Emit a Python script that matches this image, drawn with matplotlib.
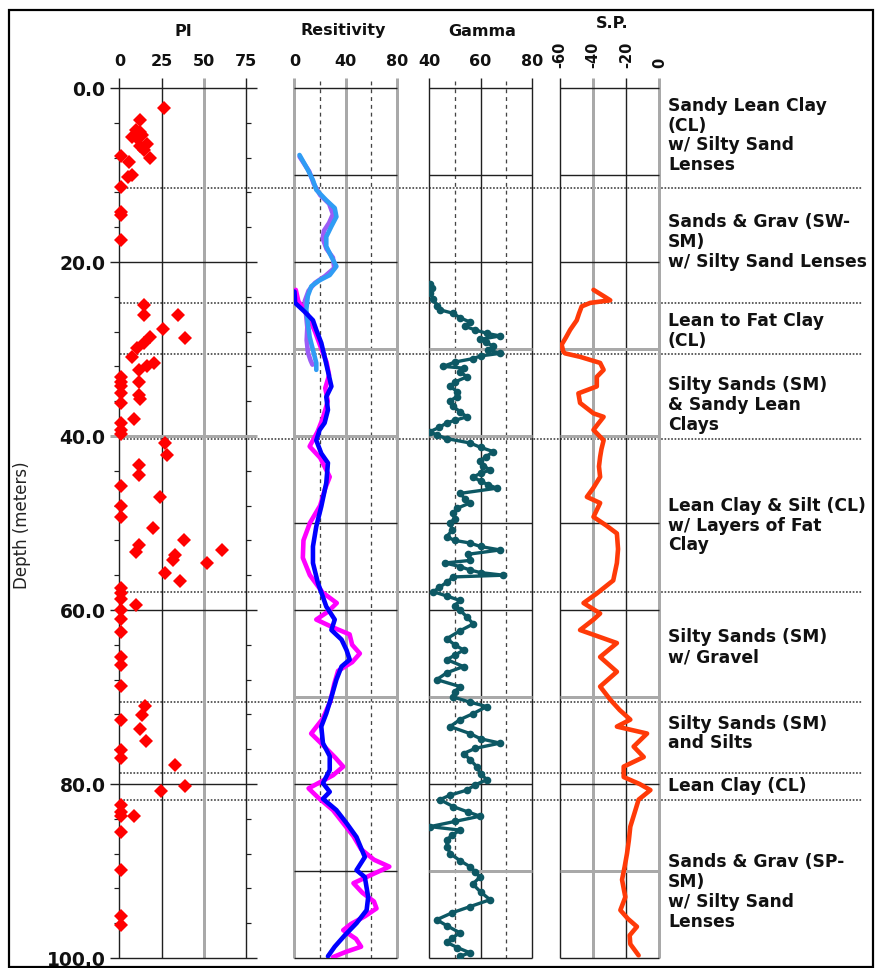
import matplotlib
matplotlib.use("Agg")
import matplotlib.pyplot as plt
import numpy as np
from matplotlib.patches import Rectangle

# ---------------- data ----------------
depth_ticks = [0, 20, 40, 60, 80, 100]

# Plasticity index samples
pi_depth = [2.3, 3.7, 4.8, 5.0, 5.4, 5.6, 5.8, 6.4, 6.7, 7.1,
            7.8, 8.1, 8.5, 10.0, 10.2, 11.4, 14.2, 14.6, 17.5, 24.9,
            26.1, 26.1, 27.7, 28.6, 28.7, 29.3, 29.9, 30.9, 31.6, 32.0,
            32.4, 33.2, 33.8, 33.8, 34.3, 35.1, 35.3, 35.7, 36.2, 38.0,
            38.5, 39.3, 39.8, 40.8, 42.2, 43.3, 44.5, 45.7, 47.0, 48.1,
            49.3, 50.6, 51.9, 52.5, 53.1, 53.3, 53.7, 54.3, 54.6, 55.7,
            56.7, 57.5, 58.1, 58.7, 59.4, 60.0, 61.0, 62.5, 65.4, 66.3,
            68.7, 71.0, 72.1, 72.6, 73.7, 75.0, 76.1, 77.0, 77.8, 80.2,
            80.8, 82.4, 83.2, 83.7, 83.7, 85.5, 89.9, 95.2, 96.2]
pi_value = [26.6, 12, 9.5, 12.4, 13.4, 7.5, 10.4, 16.4, 12.4, 14.4,
            1, 17.9, 5.5, 7.5, 4.9, 1, 1, 1, 1, 14.4,
            14.4, 34.5, 25.8, 18.3, 39, 14.4, 10.4, 7.5, 20.3, 16.4,
            11.4, 1, 1, 11.4, 1, 1, 11.4, 12.4, 1, 8.5,
            1, 1, 1, 27.2, 28.2, 11.4, 11.4, 1, 24.3, 1,
            1, 19.9, 38, 11.4, 60.7, 9.5, 33, 32, 51.8, 27.2,
            35.7, 1, 1, 1, 10, 1, 1, 1, 1, 1,
            1, 15.4, 13.4, 1, 12.4, 16, 1, 1, 33, 38.6,
            24.6, 1, 1, 1, 8.5, 1, 1, 1, 1]

# Resistivity, upper run (shallow tool) and lower run (deep tool)
res_up_depth = [7.7, 9.4, 10.6, 11.7, 12.9, 13.8, 14.8, 15.9, 17.1, 18.2,
                19.4, 20.5, 21.5, 22.1, 22.8, 23.9, 25.5, 27.0, 28.6, 30.1,
                31.6, 32.4]
res_up_blue = [3.9, 10.4, 14.4, 17, 24.8, 31.4, 32.7, 28.8, 24.8, 24.8,
               28.8, 32.7, 27.5, 19.6, 13.1, 10.4, 9.2, 10.4, 11.8, 14.4,
               17, 17]
res_up_purple_depth = [7.9, 9.6, 11.0, 12.3, 13.3, 14.5, 15.5, 16.4, 17.3, 18.5,
                       19.5, 20.7, 21.6, 22.4, 23.3, 24.5, 26.0, 27.5, 29.0, 30.4,
                       31.3, 31.8]
res_up_purple = [4, 11.5, 15, 20, 27, 30, 27, 23, 22, 25,
                 30, 31, 24, 16, 11, 8, 9, 10, 9.5, 10.5,
                 12.5, 14]

res_lo_depth = [23.4, 24.7, 25.7, 26.7, 27.8, 29.3, 30.9, 32.5, 34.3, 35.5,
                37.0, 38.5, 39.3, 40.5, 42.0, 43.1, 45.4, 48.1, 50.4, 52.7,
                54.6, 56.9, 58.5, 59.6, 61.1, 62.3, 63.4, 64.6, 65.7, 66.5,
                68.0, 70.0, 71.9, 73.4, 75.3, 76.8, 78.4, 79.9, 80.9, 81.7,
                83.0, 84.5, 86.1, 88.4, 89.9, 90.7, 93.0, 94.5, 96.0, 97.4,
                98.7, 99.8]
res_lo_blue = [0, 0.5, 7.8, 14.4, 17, 20.9, 23.5, 26, 28.8, 24.8,
               26.1, 23.5, 19.6, 17, 20.9, 26.1, 24.8, 20.9, 17, 14.4,
               14.4, 18.3, 22.2, 24.8, 31.4, 28.8, 36.7, 40.6, 43.1, 36.7,
               32.7, 28.8, 24.8, 20.9, 22.2, 27.5, 27.5, 22.2, 27.5, 22.2,
               32.7, 40.6, 48.4, 54.9, 48.4, 54.9, 57.5, 56.3, 48.4, 39.2,
               31.4, 26.1]
res_lo_mag_depth = [23.2, 24.5, 26.0, 28.0, 30.0, 31.5, 33.0, 34.5, 36.0, 38.0,
                    39.5, 41.2, 42.5, 44.7, 46.0, 48.0, 50.0, 52.0, 54.0, 56.0,
                    58.0, 59.2, 60.2, 61.1, 62.0, 62.8, 64.0, 65.0, 66.0, 67.0,
                    68.5, 70.5, 72.5, 74.2, 75.5, 77.0, 78.0, 79.0, 80.5, 81.5,
                    83.0, 84.5, 86.0, 87.5, 88.7, 89.5, 90.3, 91.4, 92.5, 93.5,
                    94.3, 95.2, 96.1, 96.8, 97.8, 98.7, 99.3, 99.9]
res_lo_mag = [1, 3, 10, 16, 21, 25, 27, 24, 26, 22,
              18, 11.8, 20, 27.5, 24, 20, 12, 7, 6.5, 12,
              22, 33, 26, 17, 30, 43, 45, 51, 45, 34,
              31, 28, 22, 13, 22, 32, 38, 30, 11, 18,
              30, 38, 46, 52, 62, 74, 62, 46, 53, 62,
              64, 55, 44, 38, 48, 52, 40, 30]

# Natural gamma
gamma_depth = [22.5, 23.0, 23.6, 24.2, 25.0, 25.5, 25.9, 26.4, 26.9, 27.4,
               27.8, 28.2, 28.5, 28.9, 29.2, 29.7, 30.1, 30.5, 30.8, 31.1,
               31.5, 32.0, 32.2, 32.6, 33.2, 33.8, 34.3, 34.9, 35.5, 36.0,
               36.6, 37.2, 37.8, 38.2, 38.5, 39.0, 39.5, 39.9, 40.3, 40.8,
               41.3, 41.8, 42.4, 42.9, 43.4, 43.9, 44.3, 44.7, 45.2, 45.6,
               46.0, 46.6, 47.2, 47.7, 48.3, 48.9, 49.5, 50.0, 50.8, 51.6,
               52.0, 52.3, 52.7, 53.1, 53.6, 54.3, 54.6, 55.0, 55.4, 55.7,
               56.0, 56.2, 56.8, 57.4, 57.9, 58.4, 58.9, 59.5, 60.0, 60.8,
               61.6, 62.4, 63.3, 64.0, 64.6, 65.2, 65.7, 66.5, 67.2, 68.0,
               68.8, 69.4, 70.0, 70.6, 71.1, 71.9, 72.6, 73.4, 74.2, 74.8,
               75.3, 75.9, 76.5, 77.2, 78.0, 78.8, 79.5, 80.1, 80.7, 81.3,
               81.8, 82.6, 83.2, 83.7, 84.3, 84.9, 85.3, 85.9, 86.4, 87.2,
               88.0, 88.8, 89.5, 90.1, 90.7, 91.5, 92.4, 93.3, 94.1, 94.8,
               95.6, 96.3, 97.1, 97.7, 98.2, 98.8, 99.4, 99.8]
gamma_value = [40.5, 41, 40.5, 41.7, 43, 44.3, 49.4, 52, 55.9, 54,
               57.9, 62.4, 67.6, 59.8, 62, 65, 63, 67.6, 60, 57.2,
               50, 45.6, 53.4, 52, 54.7, 50, 48.2, 51, 50.7, 48,
               49.4, 52, 54.7, 50, 46.9, 44, 40.4, 43, 46.9, 55.9,
               60, 65, 62, 59.8, 61, 63.7, 60, 57.2, 60, 63,
               66.3, 52, 54, 55.9, 51, 49.4, 50, 48.2, 49, 46.9,
               50, 55.9, 60, 67.6, 55, 55.9, 46.2, 52, 55.9, 60,
               68.9, 49.4, 47, 44, 41.7, 47, 52, 50, 52, 54.7,
               57.2, 52, 46.9, 50, 53.4, 50, 46.9, 53.4, 47, 43,
               52, 50, 49.4, 56, 62.4, 57.2, 52, 48.2, 55.9, 60,
               67.6, 58, 53.4, 56, 58.5, 60, 62.4, 58, 54.7, 48,
               44.3, 49.4, 55, 59.8, 50, 40.4, 52, 49, 46.9, 47,
               48.2, 52, 55.9, 58, 59.8, 57, 60, 63.7, 55.9, 49,
               43, 47, 52, 49, 46.9, 51, 55.9, 52]

# Spontaneous potential
sp_depth = [23.2, 24.0, 24.4, 24.7, 25.1, 25.9, 26.7, 27.8, 28.7, 29.5,
            30.3, 30.5, 30.9, 31.6, 32.4, 33.2, 34.3, 35.1, 36.2, 37.4,
            37.8, 38.6, 39.3, 40.5, 41.5, 42.4, 43.5, 44.7, 46.0, 47.0,
            47.7, 49.3, 50.3, 51.2, 53.0, 54.6, 56.6, 58.1, 59.2, 60.4,
            61.1, 62.3, 63.8, 65.4, 67.1, 68.8, 70.3, 71.5, 72.6, 73.4,
            74.2, 75.7, 76.9, 78.0, 79.2, 80.0, 80.7, 81.8, 83.3, 84.9,
            86.5, 88.0, 89.5, 91.0, 93.0, 94.5, 95.5, 96.4, 97.4, 98.4,
            99.7]
sp_value = [-39.8, -33, -29.7, -41.8, -46.9, -48.5, -49.9, -53.9, -56.5, -59,
            -58, -57, -47.9, -35.8, -33.7, -37.8, -37.8, -48.9, -47.9, -39.8,
            -33.7, -37, -39.8, -33.7, -35, -35.8, -36.5, -35.8, -40, -43.8,
            -35.8, -39.8, -32, -25.7, -25, -25.7, -27.9, -37.8, -45.8, -35.8,
            -39.8, -47.9, -25.7, -35.8, -25.7, -35.8, -29.7, -24, -17.6, -25.7,
            -7.5, -15.6, -9.5, -21.6, -21.6, -12, -5.5, -12.6, -15, -17.6,
            -18.5, -19.6, -21, -22.6, -20.6, -23.6, -19, -13.6, -18, -17.6,
            -12.6]

# Layer boundaries and descriptions
boundary_depths = [11.5, 24.7, 30.6, 40.3, 57.9, 70.6, 78.7, 81.8]
layer_label_depths = [5.46, 17.7, 27.9, 36.4, 50.3, 64.3, 74.2, 80.2, 92.4]
layer_labels = [
    "Sandy Lean Clay\n(CL)\nw/ Silty Sand\nLenses",
    "Sands & Grav (SW-\nSM)\nw/ Silty Sand Lenses",
    "Lean to Fat Clay\n(CL)",
    "Silty Sands (SM)\n& Sandy Lean\nClays",
    "Lean Clay & Silt (CL)\nw/ Layers of Fat\nClay",
    "Silty Sands (SM)\nw/ Gravel",
    "Silty Sands (SM)\nand Silts",
    "Lean Clay (CL)",
    "Sands & Grav (SP-\nSM)\nw/ Silty Sand\nLenses",
]

pi_ticks = [0, 25, 50, 75]
res_ticks = [0, 40, 80]
gamma_ticks = [40, 60, 80]
sp_ticks = [-60, -40, -20, 0]

# ---------------- layout ----------------
W, H, DPI = 879, 968, 100
TOP, BOT = 88, 958          # pixel rows of depth 0 and depth 100
PXM = (BOT - TOP) / 100.0   # pixels per metre
PT = 72.0 / DPI             # points per pixel

plt.rcParams['font.family'] = ['DejaVu Sans']
plt.rcParams['font.weight'] = 'bold'
plt.rcParams['axes.unicode_minus'] = False

fig = plt.figure(figsize=(W / DPI, H / DPI), dpi=DPI)
fig.patch.set_facecolor('white')

def fx(px):
    return px / W

def fy(py):
    return 1 - py / H

BLACK = '#202020'
GRAY = '#a9a9a9'

# background layer: x in pixels, y in metres
bg = fig.add_axes([0, 0, 1, 1], zorder=0)
bg.set_xlim(0, W)
bg.set_ylim((H - TOP) / PXM, -TOP / PXM)
bg.axis('off')

bg.hlines(boundary_depths, 120, 862, colors='#333333', linewidth=1.1,
          linestyles=(0, (1.1, 1.1)), zorder=3)
for d, txt in zip(layer_label_depths, layer_labels):
    bg.text(668, d, txt, ha='left', va='center', fontsize=12.3,
            color='#111111', linespacing=1.13)

fig.patches.append(Rectangle((fx(8.5), fy(967)), fx(873) - fx(8.5), fy(9.5) - fy(967),
                             transform=fig.transFigure, fill=False,
                             edgecolor='black', linewidth=2.2 * PT, zorder=10))


def panel(left, right, xlim, ticks):
    ax = fig.add_axes([fx(left), fy(BOT), (right - left) / W, (BOT - TOP) / H], zorder=2)
    ax.set_xlim(*xlim)
    ax.set_ylim(100, 0)
    ax.patch.set_alpha(0)
    for s in ax.spines.values():
        s.set_visible(False)
    ax.xaxis.tick_top()
    ax.set_xticks(ticks)
    ax.tick_params(axis='x', length=0, pad=19 * PT, labelsize=11.5, labelcolor='#111111')
    ax.tick_params(axis='y', left=False, right=False, labelleft=False)
    return ax


def vline(ax, x, color, lw_px, top=-1.15, ls='-'):
    ax.vlines(x, top, 100, colors=color, linewidth=lw_px * PT, linestyles=ls,
              clip_on=False, zorder=1)


def hline(ax, d, x0, x1, color, lw_px):
    ax.hlines(d, x0, x1, colors=color, linewidth=lw_px * PT, clip_on=False, zorder=1)


CURVE_LW = 3.3

# ---- PI ----
ax_pi = panel(119.5, 246, (0, 75), pi_ticks)
px_pi = 75 / (246 - 119.5)
for x, c, w in [(0, BLACK, 1.4), (25, BLACK, 1.4), (50, GRAY, 3), (75, BLACK, 1.4)]:
    vline(ax_pi, x, c, w)
for d in depth_ticks:
    hline(ax_pi, d, -9.5 * px_pi, 11 * px_pi + 75,
          GRAY if d == 40 else BLACK, 3 if d == 40 else 1.4)
ax_pi.set_yticks(depth_ticks)
ax_pi.set_yticklabels([f"{d:.1f}" for d in depth_ticks])
ax_pi.set_yticks(np.arange(4, 100, 4), minor=True)
ax_pi.tick_params(axis='y', which='major', left=True, labelleft=True, length=0,
                  pad=10, labelsize=13.5, labelcolor='#111111')
ax_pi.tick_params(axis='y', which='minor', left=True, right=True, length=5 * PT,
                  width=1.2 * PT, color=BLACK)
ax_pi.plot(pi_value, pi_depth, linestyle='none', marker='D', markersize=7.2,
           color='#ff0000', markeredgewidth=0, clip_on=False, zorder=4)

# ---- Resistivity ----
ax_res = panel(294.5, 397, (0, 80), res_ticks)
for x in (20, 60):
    vline(ax_res, x, '#444444', 1.3, top=-0.8, ls=(0, (3, 3)))
for x in (0, 40, 80):
    vline(ax_res, x, GRAY, 3)
for d in range(0, 101, 10):
    gray = d in (30, 40, 70)
    hline(ax_res, d, 0, 80, GRAY if gray else BLACK, 3 if gray else 1.4)
ax_res.plot(res_up_purple, res_up_purple_depth, color='#9b5cf6', linewidth=CURVE_LW,
            solid_capstyle='round', solid_joinstyle='round', zorder=4)
ax_res.plot(res_up_blue, res_up_depth, color='#2f9cf4', linewidth=CURVE_LW,
            solid_capstyle='round', solid_joinstyle='round', zorder=5)
ax_res.plot(res_lo_mag, res_lo_mag_depth, color='#ff00ff', linewidth=CURVE_LW,
            solid_capstyle='round', solid_joinstyle='round', zorder=4)
ax_res.plot(res_lo_blue, res_lo_depth, color='#0000ff', linewidth=CURVE_LW,
            solid_capstyle='round', solid_joinstyle='round', zorder=5)

# ---- Gamma ----
ax_g = panel(429, 532, (40, 80), gamma_ticks)
for x in (50, 70):
    vline(ax_g, x, '#444444', 1.3, top=-0.8, ls=(0, (3, 3)))
for x in (40, 60, 80):
    vline(ax_g, x, BLACK, 1.4)
for d in range(0, 101, 10):
    gray = d in (30, 40, 70, 90)
    hline(ax_g, d, 40, 80, GRAY if gray else BLACK, 3 if gray else 1.4)
ax_g.plot(gamma_value, gamma_depth, color='#0d5864', linewidth=2.4, marker='o',
          markersize=5.5, markeredgewidth=0, solid_joinstyle='round', zorder=4)

# ---- S.P. ----
ax_sp = panel(560, 659.5, (-60, 0), sp_ticks)
ax_sp.tick_params(axis='x', labelrotation=90, pad=20 * PT, labelsize=10.5)
for x, c, w in [(-60, BLACK, 1.4), (-40, GRAY, 3), (-20, BLACK, 1.4), (0, GRAY, 3)]:
    vline(ax_sp, x, c, w)
for d in range(0, 101, 10):
    gray = d in (30, 40, 70, 90)
    hline(ax_sp, d, -60, 0, GRAY if gray else BLACK, 3 if gray else 1.4)
ax_sp.plot(sp_value, sp_depth, color='#ff3a08', linewidth=CURVE_LW, solid_capstyle='round',
           solid_joinstyle='round', zorder=4)

# ---- headers ----
for x, y, s in [(183, 31, 'PI'), (343, 31, 'Resitivity'), (482, 32, 'Gamma'), (612, 24, 'S.P.')]:
    fig.text(fx(x), fy(y), s, ha='center', va='center', fontsize=11.5, color='#111111')

fig.text(fx(22), fy(525), 'Depth (meters)', rotation=90, ha='center', va='center',
         fontsize=12, fontweight='normal', color='#222222')

fig.savefig('out.png', dpi=DPI, facecolor='white')
